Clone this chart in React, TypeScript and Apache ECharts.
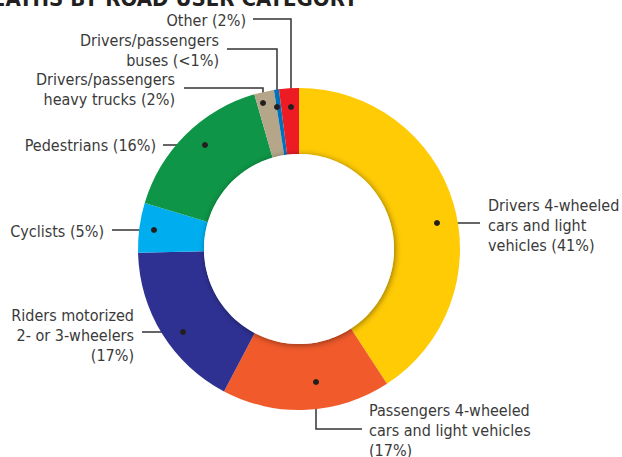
import React, { useEffect, useRef } from "react";
import * as echarts from "echarts";

const categories = [
  "Drivers 4-wheeled\ncars and light\nvehicles (41%)",
  "Passengers 4-wheeled\ncars and light vehicles\n(17%)",
  "Riders motorized\n2- or 3-wheelers\n(17%)",
  "Cyclists (5%)",
  "Pedestrians (16%)",
  "Drivers/passengers\nheavy trucks (2%)",
  "Drivers/passengers\nbuses (<1%)",
  "Other (2%)",
];
const values = [41, 17, 17, 5, 16, 2, 0.5, 2];
const colors = ["#FFCB05", "#F15A2B", "#2E3192", "#00AEEF", "#0E9547", "#B5A68A", "#0072BC", "#ED1C24"];
const title = "DEATHS BY ROAD USER CATEGORY";

const FONT = "'Liberation Sans Narrow', 'DejaVu Sans Condensed', 'Roboto', sans-serif";

// label layout positions
const layouts: any[] = [
  { x: 488, y: 225, align: "left", pts: [[437, 223], [480, 223]] },
  { x: 369, y: 430, align: "left", pts: [[316, 382], [316, 429], [362, 429]] },
  { x: 134, y: 335, align: "right", pts: [[183, 332], [142, 332]] },
  { x: 104, y: 231, align: "right", pts: [[154, 230], [112, 230]] },
  { x: 156, y: 145, align: "right", pts: [[205, 145], [163, 145]] },
  { x: 175, y: 89, align: "right", pts: [[263, 103], [263, 88], [184, 88]] },
  { x: 219, y: 50, align: "right", pts: [[277, 107], [277, 49], [227, 49]] },
  { x: 246, y: 20, align: "right", pts: [[291, 107], [291, 19], [253, 19]] },
];

export default function App() {
  const ref = useRef<HTMLDivElement>(null);
  useEffect(() => {
    document.body.style.margin = "0";
    const chart = echarts.init(ref.current!, null, { renderer: "svg" });
    chart.setOption({
      animation: false,
      backgroundColor: "#ffffff",
      series: [
        {
          type: "pie",
          center: [299, 249],
          radius: [95, 161],
          startAngle: 90,
          clockwise: true,
          avoidLabelOverlap: false,
          silent: true,
          data: categories.map((c, i) => ({
            name: c,
            value: values[i],
            itemStyle: { color: colors[i] },
          })),
          label: {
            show: true,
            formatter: "{b}",
            fontFamily: FONT,
            fontSize: 16,
            lineHeight: 20,
            color: "#3a3a3a",
          },
          labelLine: {
            show: true,
            lineStyle: { color: "#333333", width: 1.5 },
          },
          labelLayout: (p: any) => {
            const l = layouts[p.dataIndex];
            return {
              x: l.x,
              y: l.y,
              align: l.align,
              verticalAlign: "middle",
              labelLinePoints: l.pts,
            };
          },
        },
        {
          type: "pie",
          center: [299, 249],
          radius: [0, 95],
          silent: true,
          label: { show: false },
          labelLine: { show: false },
          data: [
            {
              value: 1,
              itemStyle: {
                color: "#ffffff",
                shadowBlur: 6,
                shadowColor: "rgba(0,0,0,0.45)",
                shadowOffsetX: 1,
                shadowOffsetY: 1,
              },
            },
          ],
        },
      ],
      graphic: [
        {
          type: "text",
          x: 358,
          y: 9,
          style: {
            text: title,
            textAlign: "right",
            textVerticalAlign: "bottom",
            font: `bold 22px ${FONT}`,
            fill: "#231f20",
          },
        },
        ...layouts.map((l) => ({
          type: "circle",
          shape: { cx: l.pts[0][0], cy: l.pts[0][1], r: 3 },
          style: { fill: "#231f20" },
          z: 100,
        })),
      ],
    });
    return () => chart.dispose();
  }, []);
  return <div ref={ref} style={{ width: 622, height: 457 }} />;
}
